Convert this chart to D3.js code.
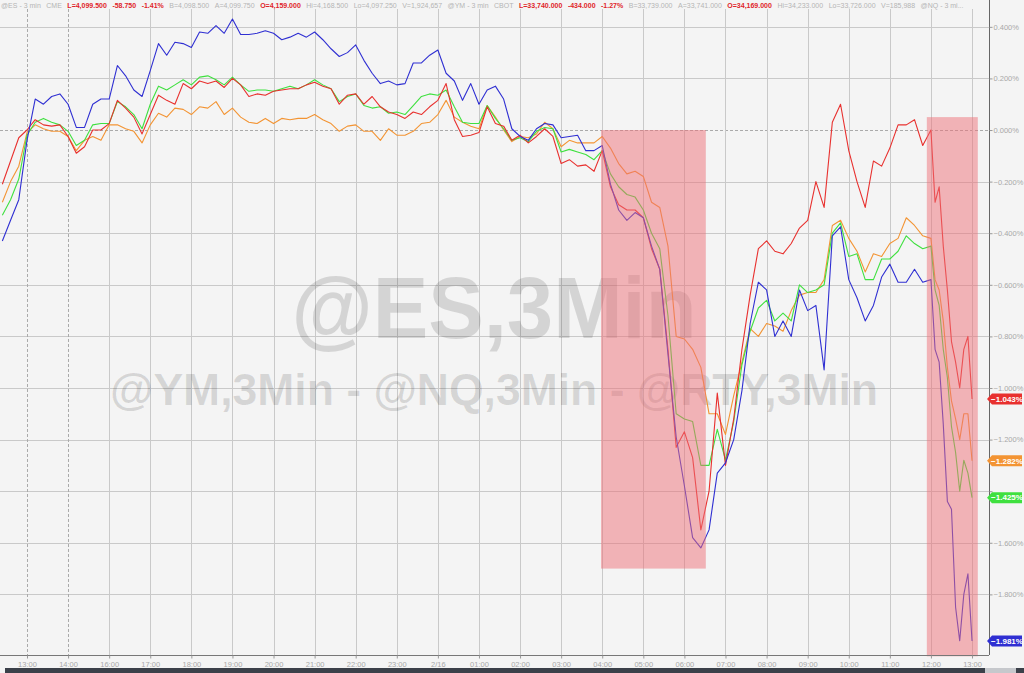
<!DOCTYPE html>
<html>
<head>
<meta charset="utf-8">
<script src="https://cdn.jsdelivr.net/npm/d3@7"></script>
<style>
body { margin: 0; background: #f4f4f4; overflow: hidden; }
svg { display: block; font-family: 'Liberation Sans', Arial, sans-serif; }
</style>
</head>
<body>
<script>
/* global d3 */
// session slots shown on the time axis (15:00 is the maintenance break, so it is skipped)
var xLabels = ['13:00', '14:00', '16:00', '17:00', '18:00', '19:00', '20:00', '21:00', '22:00', '23:00',
  '2/16', '01:00', '02:00', '03:00', '04:00', '05:00', '06:00', '07:00', '08:00', '09:00', '10:00',
  '11:00', '12:00', '13:00']

var yTicks = [0.4, 0.2, 0, -0.2, -0.4, -0.6, -0.8, -1.0, -1.2, -1.4, -1.6, -1.8]

// quote line across the top
var headerItems = [
  ['@ES - 3 min', 0], ['CME', 0], ['L=4,099.500', 1], ['-58.750', 1], ['-1.41%', 1],
  ['B=4,098.500', 0], ['A=4,099.750', 0], ['O=4,159.000', 1], ['Hi=4,168.500', 0],
  ['Lo=4,097.250', 0], ['V=1,924,657', 0], ['@YM - 3 min', 0], ['CBOT', 0],
  ['L=33,740.000', 1], ['-434.000', 1], ['-1.27%', 1], ['B=33,739.000', 0],
  ['A=33,741.000', 0], ['O=34,169.000', 1], ['Hi=34,233.000', 0], ['Lo=33,726.000', 0],
  ['V=185,988', 0], ['@NQ - 3 mi...', 0]
]

// % change, one value every 12 min, then every 6 min over the last hour
var ymVals = [
  -0.21, -0.12, -0.03, 0.0, 0.04, 0.02, 0.015, 0.02, -0.025, -0.09,
  -0.065, 0.0, 0.0, 0.025, 0.115, 0.085, 0.05, -0.015, 0.06, 0.135,
  0.115, 0.10, 0.18, 0.16, 0.19, 0.18, 0.19, 0.165, 0.20, 0.175,
  0.13, 0.14, 0.135, 0.15, 0.155, 0.16, 0.16, 0.175, 0.185, 0.17,
  0.16, 0.10, 0.135, 0.14, 0.10, 0.13, 0.09, 0.07, 0.06, 0.045,
  0.07, 0.06, 0.09, 0.115, 0.18, 0.04, -0.025, -0.02, -0.01, 0.09,
  0.025, 0.015, -0.04, -0.02, -0.05, -0.025, 0.005, -0.025, -0.13, -0.115,
  -0.14, -0.135, -0.16, -0.08, -0.22, -0.29, -0.31, -0.31, -0.34, -0.46,
  -0.54, -0.85, -1.23, -1.17, -1.27, -1.55, -1.40, -1.02, -1.30, -1.12,
  -0.85, -0.64, -0.46, -0.43, -0.47, -0.48, -0.44, -0.38, -0.35, -0.20,
  -0.30, 0.03, 0.10, -0.08, -0.20, -0.30, -0.12, -0.14, -0.07, 0.02,
  0.02, 0.04, -0.06,
  0.0, -0.28, -0.22, -0.45, -0.62, -0.82, -0.90, -1.00, -0.85, -0.80, -1.043
]

var rtyVals = [
  -0.28, -0.20, -0.14, -0.01, 0.02, 0.005, -0.005, -0.005, -0.025, -0.08,
  -0.04, -0.025, -0.04, 0.02, 0.02, 0.005, -0.005, -0.05, 0.02, 0.065,
  0.05, 0.085, 0.08, 0.06, 0.09, 0.085, 0.11, 0.06, 0.085, 0.05,
  0.03, 0.025, 0.045, 0.025, 0.045, 0.04, 0.045, 0.045, 0.06, 0.04,
  0.025, -0.005, 0.015, 0.02, -0.005, -0.005, -0.04, 0.005, -0.02, -0.02,
  -0.005, 0.025, 0.03, 0.06, 0.115, 0.05, 0.03, 0.015, 0.005, 0.095,
  0.05, 0.0, -0.045, -0.025, -0.03, -0.015, 0.03, 0.005, -0.065, -0.04,
  -0.05, -0.05, -0.05, -0.025, -0.07, -0.13, -0.17, -0.16, -0.18, -0.28,
  -0.30, -0.45, -0.80, -0.81, -0.85, -0.92, -1.10, -1.10, -1.18, -1.03,
  -0.90, -0.77, -0.80, -0.75, -0.76, -0.78, -0.70, -0.64, -0.63, -0.63,
  -0.58, -0.37, -0.35, -0.42, -0.47, -0.55, -0.48, -0.49, -0.44, -0.42,
  -0.34, -0.37, -0.41,
  -0.42, -0.58, -0.62, -0.74, -0.92, -1.05, -1.12, -1.20, -1.10, -1.10, -1.282
]

var esVals = [
  -0.33, -0.27, -0.19, -0.02, 0.03, 0.045, 0.03, 0.02, -0.005, -0.06,
  -0.04, 0.02, 0.025, 0.025, 0.11, 0.09, 0.06, 0.005, 0.10, 0.17,
  0.155, 0.175, 0.195, 0.175, 0.205, 0.21, 0.195, 0.175, 0.205, 0.175,
  0.15, 0.155, 0.155, 0.15, 0.16, 0.17, 0.16, 0.175, 0.195, 0.175,
  0.16, 0.11, 0.13, 0.14, 0.095, 0.085, 0.09, 0.065, 0.07, 0.06,
  0.095, 0.13, 0.14, 0.135, 0.155, 0.09, 0.03, 0.025, 0.025, 0.095,
  0.045, 0.005, -0.04, -0.03, -0.045, -0.005, 0.01, 0.005, -0.085, -0.075,
  -0.085, -0.095, -0.115, -0.08, -0.17, -0.22, -0.25, -0.26, -0.31, -0.40,
  -0.46, -0.72, -1.10, -1.12, -1.13, -1.30, -1.30, -1.16, -1.28, -1.13,
  -0.91, -0.78, -0.69, -0.66, -0.74, -0.71, -0.74, -0.60, -0.63, -0.62,
  -0.60, -0.40, -0.36, -0.49, -0.48, -0.58, -0.58, -0.50, -0.50, -0.47,
  -0.41, -0.44, -0.46,
  -0.45, -0.62, -0.68, -0.85, -0.96, -1.15, -1.25, -1.40, -1.28, -1.33, -1.425
]

var nqVals = [
  -0.43, -0.35, -0.27, -0.04, 0.12, 0.10, 0.13, 0.14, 0.10, 0.01,
  0.01, 0.10, 0.12, 0.12, 0.25, 0.21, 0.155, 0.13, 0.23, 0.335,
  0.29, 0.34, 0.335, 0.32, 0.38, 0.375, 0.405, 0.375, 0.43, 0.37,
  0.37, 0.375, 0.385, 0.375, 0.35, 0.36, 0.375, 0.36, 0.38, 0.35,
  0.315, 0.285, 0.30, 0.33, 0.27, 0.22, 0.18, 0.19, 0.175, 0.18,
  0.26, 0.26, 0.29, 0.31, 0.22, 0.19, 0.115, 0.18, 0.10, 0.155,
  0.17, 0.12, 0.005, -0.025, -0.04, 0.005, 0.025, 0.02, -0.03, -0.025,
  -0.02, -0.08, -0.08, -0.06, -0.21, -0.31, -0.35, -0.32, -0.34, -0.45,
  -0.54, -0.87, -1.19, -1.38, -1.58, -1.62, -1.55, -1.33, -1.29, -1.20,
  -1.01, -0.75, -0.59, -0.62, -0.80, -0.74, -0.80, -0.62, -0.70, -0.68,
  -0.93, -0.41, -0.375, -0.58, -0.65, -0.74, -0.68, -0.57, -0.52, -0.59,
  -0.59, -0.54, -0.59,
  -0.58, -0.85, -0.90, -1.14, -1.44, -1.47, -1.85, -1.98, -1.80, -1.72, -1.981
]

// shaded sell-off windows (slot units / % units)
var highlights = [
  {from: 13.97, to: 16.52, top: 0, bottom: -1.70},
  {from: 21.9, to: 23.14, top: 0.05, bottom: -2.04}
]

var width = 1024
var height = 673
var plotRight = 989
var plotBottom = 655

// slot positions of each bar
var times = d3.range(113).map(function (i) { return -0.6 + i * 0.2 })
  .concat(d3.range(11).map(function (i) { return 22 + i * 0.1 }))

var series = [
  {values: rtyVals, color: '#f39433', text: '#fff'},
  {values: esVals, color: '#3fe03f', text: '#fff'},
  {values: ymVals, color: '#e8302e', text: '#fff'},
  {values: nqVals, color: '#2f2fd2', text: '#fff'}
]

var x = d3.scaleLinear()
  .domain([-0.657, 23.413])
  .range([0, plotRight])

var y = d3.scaleLinear()
  .domain([-2.035, 0.504])
  .range([plotBottom, 0])

var pct = function (v) { return d3.format('.3f')(Math.abs(v) < 1e-9 ? 0 : v) + '%' }

var lastY = series.map(function (s) { return y(s.values[s.values.length - 1]) })

var svg = d3.select('body').append('svg')
  .attr('width', width)
  .attr('height', height)

svg.append('rect')
  .attr('width', width)
  .attr('height', height)
  .attr('fill', '#f4f4f4')

// grid
svg.append('g').selectAll('line')
  .data(yTicks)
  .enter().append('line')
  .attr('x1', 0)
  .attr('x2', plotRight)
  .attr('y1', function (d) { return Math.round(y(d)) + 0.5 })
  .attr('y2', function (d) { return Math.round(y(d)) + 0.5 })
  .attr('stroke', function (d) { return d === 0 ? '#aaa' : '#c9c9c9' })
  .attr('stroke-dasharray', function (d) { return d === 0 ? '3,2' : null })

svg.append('g').selectAll('line')
  .data(d3.range(xLabels.length))
  .enter().append('line')
  .attr('x1', function (d) { return Math.round(x(d)) + 0.5 })
  .attr('x2', function (d) { return Math.round(x(d)) + 0.5 })
  .attr('y1', 9)
  .attr('y2', plotBottom)
  .attr('stroke', function (d) { return d < 2 ? '#aaa' : '#c9c9c9' })
  .attr('stroke-dasharray', function (d) { return d < 2 ? '3,2' : null })

// watermark
svg.append('text')
  .attr('x', 494)
  .attr('y', 338)
  .attr('text-anchor', 'middle')
  .attr('textLength', 405)
  .attr('lengthAdjust', 'spacingAndGlyphs')
  .style('font-size', '88px')
  .style('font-weight', 'bold')
  .style('fill', '#000')
  .style('fill-opacity', 0.13)
  .text('@ES,3Min')

svg.append('text')
  .attr('x', 494)
  .attr('y', 405)
  .attr('text-anchor', 'middle')
  .attr('textLength', 768)
  .attr('lengthAdjust', 'spacingAndGlyphs')
  .style('font-size', '45px')
  .style('font-weight', 'bold')
  .style('fill', '#000')
  .style('fill-opacity', 0.13)
  .text('@YM,3Min - @NQ,3Min - @RTY,3Min')

// series lines
var line = d3.line()
  .x(function (d, i) { return x(times[i]) })
  .y(function (d) { return y(d) })

svg.append('g').selectAll('path')
  .data(series)
  .enter().append('path')
  .attr('d', function (d) { return line(d.values) })
  .attr('fill', 'none')
  .attr('stroke', function (d) { return d.color })
  .attr('stroke-width', 1.1)
  .attr('stroke-linejoin', 'round')

// shaded windows on top, translucent
svg.append('g').selectAll('rect')
  .data(highlights)
  .enter().append('rect')
  .attr('x', function (d) { return x(d.from) })
  .attr('width', function (d) { return x(d.to) - x(d.from) })
  .attr('y', function (d) { return y(d.top) })
  .attr('height', function (d) { return y(d.bottom) - y(d.top) })
  .attr('fill', '#ee6f78')
  .attr('fill-opacity', 0.5)

// axes
var yAxis = d3.axisRight(y)
  .tickValues(yTicks)
  .tickSize(3)
  .tickSizeOuter(0)
  .tickFormat(pct)

var yg = svg.append('g')
  .attr('transform', 'translate(' + (plotRight + 0.5) + ',0)')
  .call(yAxis)

yg.select('.domain').attr('stroke', '#666').attr('d', 'M0,0V' + plotBottom)
yg.selectAll('.tick line').attr('stroke', '#999')
yg.selectAll('.tick text')
  .attr('x', 4)
  .style('font-size', '7.5px')
  .style('font-family', 'Liberation Sans, Arial, sans-serif')
  .attr('fill', '#a8a8a8')
  // the value tags cover the tick label they sit on
  .style('display', function (d) {
    var ty = y(d)
    return lastY.some(function (ly) { return Math.abs(ly - ty) < 10 }) ? 'none' : null
  })

var xAxis = d3.axisBottom(x)
  .tickValues(d3.range(xLabels.length))
  .tickSize(3)
  .tickSizeOuter(0)
  .tickFormat(function (d) { return xLabels[d] })

var xg = svg.append('g')
  .attr('transform', 'translate(0,' + (plotBottom + 0.5) + ')')
  .call(xAxis)

xg.select('.domain').attr('stroke', '#777').attr('d', 'M0,0H' + plotRight)
xg.selectAll('.tick line').attr('stroke', '#999')
xg.selectAll('.tick text')
  .attr('y', 6)
  .style('font-size', '7.5px')
  .style('font-family', 'Liberation Sans, Arial, sans-serif')
  .attr('fill', '#a8a8a8')

// last value tags on the right axis
var tags = svg.append('g').selectAll('g')
  .data(series)
  .enter().append('g')
  .attr('transform', function (d, i) {
    return 'translate(' + plotRight + ',' + lastY[i] + ')'
  })

tags.append('path')
  .attr('d', 'M-2,0L3,-5.5H33V5.5H3Z')
  .attr('fill', function (d) { return d.color })

tags.append('text')
  .attr('x', 18)
  .attr('dy', '0.35em')
  .attr('text-anchor', 'middle')
  .style('font-size', '8px')
  .style('font-weight', 'bold')
  .attr('fill', function (d) { return d.text })
  .text(function (d) { return pct(d.values[d.values.length - 1]) })

// quote header
var hx = 1
svg.append('g').selectAll('text')
  .data(headerItems)
  .enter().append('text')
  .attr('y', 8)
  .style('font-size', '7px')
  .style('font-weight', function (d) { return d[1] ? 'bold' : 'normal' })
  .attr('fill', function (d) { return d[1] ? '#e0242a' : '#b4b4b4' })
  .text(function (d) { return d[0] })
  .each(function () {
    d3.select(this).attr('x', hx)
    hx += this.getComputedTextLength() + 5.5
  })

// scrollbar strip
svg.append('rect')
  .attr('x', 5).attr('y', 668).attr('width', 980).attr('height', 5)
  .attr('fill', '#3b4049')
svg.append('rect')
  .attr('x', 985).attr('y', 668).attr('width', 31).attr('height', 5)
  .attr('fill', '#c6c8cc')
svg.append('rect')
  .attr('x', 1016).attr('y', 668).attr('width', 8).attr('height', 5)
  .attr('fill', '#3b4049')
</script>
</body>
</html>
